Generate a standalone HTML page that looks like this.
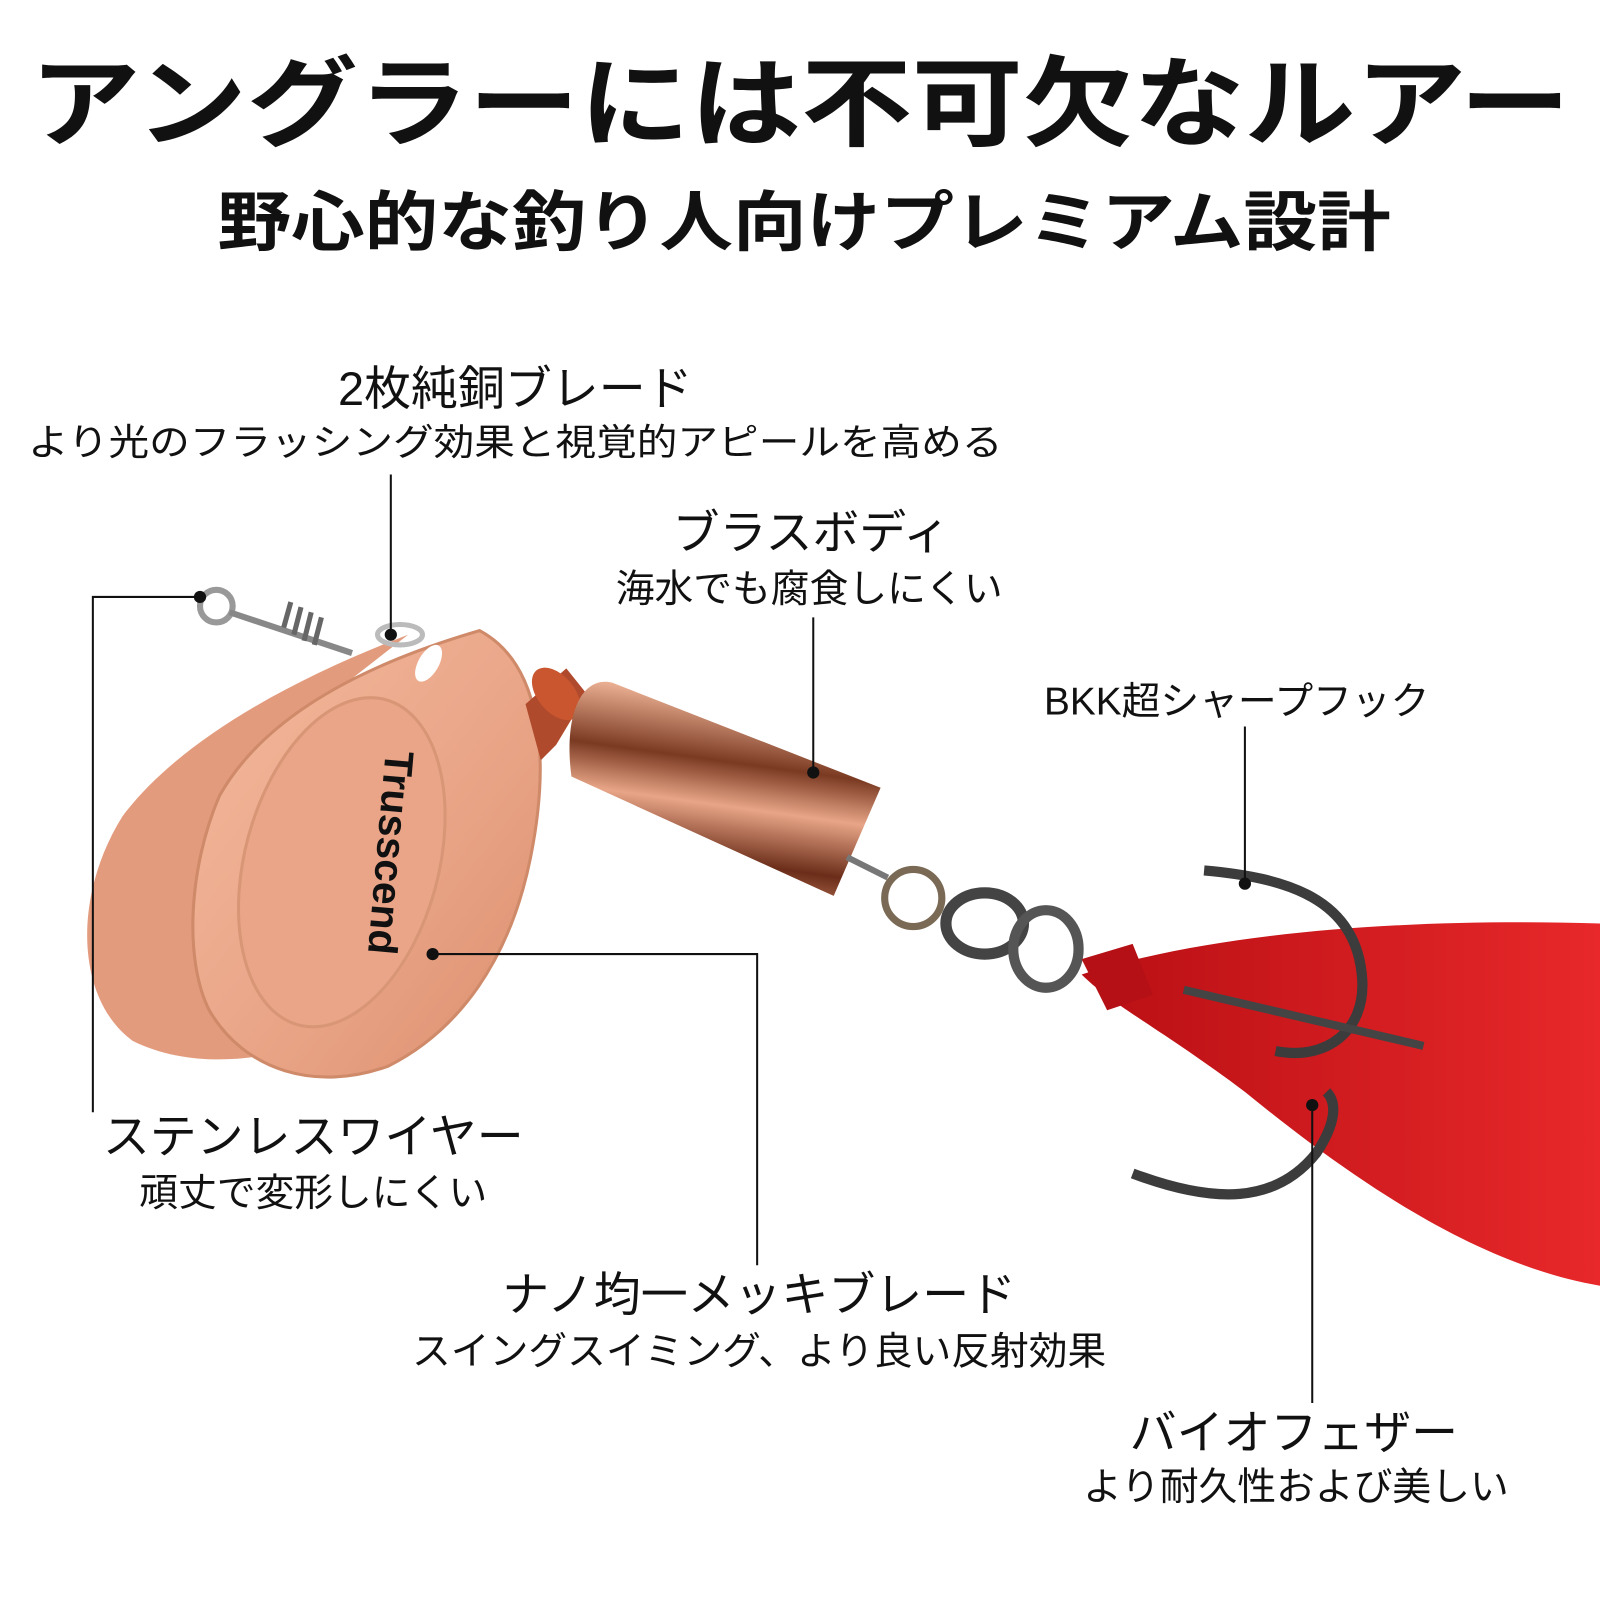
<!DOCTYPE html>
<html><head><meta charset="utf-8"><style>
html,body{margin:0;padding:0;background:#fff}
svg{display:block}
text{font-family:"Liberation Sans","Noto Sans CJK JP",sans-serif;fill:#111}
</style></head><body>
<svg width="1600" height="1600" viewBox="0 0 1568 1568" xmlns="http://www.w3.org/2000/svg">
<defs>
<linearGradient id="cu" x1="0" y1="0" x2="1" y2="1">
<stop offset="0" stop-color="#f3b99c"/><stop offset="0.5" stop-color="#eba78a"/><stop offset="1" stop-color="#dc9070"/></linearGradient>
<linearGradient id="body" x1="0.2" y1="0" x2="0" y2="1">
<stop offset="0" stop-color="#f2b79a"/><stop offset="0.3" stop-color="#7a3a22"/><stop offset="0.5" stop-color="#e8a587"/><stop offset="0.75" stop-color="#6b2d19"/><stop offset="1" stop-color="#d7906f"/></linearGradient>
<linearGradient id="fe" x1="0" y1="0" x2="1" y2="0">
<stop offset="0" stop-color="#b80f14"/><stop offset="1" stop-color="#e8282a"/></linearGradient>
</defs>
<text x="784" y="135" font-size="96" font-weight="bold" text-anchor="middle" textLength="1510" lengthAdjust="spacingAndGlyphs">アングラーには不可欠なルアー</text>
<text x="788" y="240" font-size="64" font-weight="bold" text-anchor="middle" textLength="1150" lengthAdjust="spacingAndGlyphs">野心的な釣り人向けプレミアム設計</text>

<!-- swivel -->
<circle cx="212" cy="594" r="16" fill="none" stroke="#999" stroke-width="6"/>
<line x1="225" y1="600" x2="345" y2="640" stroke="#888" stroke-width="6"/>
<g stroke="#666" stroke-width="5"><line x1="285" y1="590" x2="278" y2="615"/><line x1="295" y1="595" x2="288" y2="622"/><line x1="305" y1="600" x2="298" y2="628"/><line x1="315" y1="605" x2="308" y2="632"/></g>
<!-- back blade -->
<path d="M400 622 C300 660 180 720 120 800 C70 880 75 980 130 1020 C180 1045 240 1040 280 1030 L300 700 Z" fill="#e39b7e"/>
<!-- front blade -->
<path d="M470 618 C530 650 540 740 520 840 C500 940 450 1010 380 1045 C310 1070 240 1050 205 990 C180 940 185 850 215 780 C260 700 360 650 470 618 Z" fill="url(#cu)" stroke="#cf8a6a" stroke-width="3"/>
<ellipse cx="335" cy="845" rx="95" ry="165" transform="rotate(15 335 845)" fill="#eaa588" stroke="#d99677" stroke-width="3"/>
<text x="0" y="0" font-size="40" fill="#c98266" font-family="Liberation Serif,serif" font-weight="bold" transform="translate(378 735) rotate(95)">Trusscend</text>
<ellipse cx="420" cy="650" rx="10" ry="20" transform="rotate(30 420 650)" fill="#fff"/>
<ellipse cx="392" cy="622" rx="22" ry="10" fill="none" stroke="#bbb" stroke-width="5"/>
<!-- beads -->
<path d="M515 690 L555 655 L575 680 L545 730 L530 745 Z" fill="#b04a2c"/>
<ellipse cx="545" cy="680" rx="18" ry="30" transform="rotate(-40 545 680)" fill="#c9562f"/>
<!-- body -->
<path d="M600 669 C570 662 552 700 560 761 L817 878 L863 772 Z" fill="url(#body)"/>
<!-- rings -->
<line x1="830" y1="840" x2="870" y2="860" stroke="#777" stroke-width="6"/>
<circle cx="895" cy="880" r="28" fill="none" stroke="#7a6a55" stroke-width="7"/>
<ellipse cx="965" cy="905" rx="38" ry="30" fill="none" stroke="#444" stroke-width="11"/>
<ellipse cx="1025" cy="930" rx="32" ry="38" fill="none" stroke="#555" stroke-width="10"/>
<!-- feather -->
<path d="M1060 955 C1200 910 1400 900 1568 905 L1568 1260 C1450 1240 1330 1160 1220 1070 C1140 1010 1090 985 1060 955 Z" fill="url(#fe)"/>
<path d="M1060 940 L1110 925 L1130 975 L1085 990 Z" fill="#b51015"/>
<!-- hook -->
<path d="M1180 853 C1260 860 1330 880 1335 960 C1338 1010 1300 1040 1250 1030" fill="none" stroke="#3c3c3c" stroke-width="10"/>
<path d="M1110 1150 C1190 1180 1250 1180 1290 1130 C1310 1100 1310 1080 1300 1070" fill="none" stroke="#3c3c3c" stroke-width="10"/>
<path d="M1160 970 L1395 1025" stroke="#444" stroke-width="8"/>

<!-- connectors -->
<g stroke="#111" stroke-width="2" fill="none">
<polyline points="383,465 383,620"/>
<polyline points="196,585 91,585 91,1090"/>
<polyline points="797,605 797,755"/>
<polyline points="424,935 742,935 742,1240"/>
<polyline points="1220,712 1220,865"/>
<polyline points="1286,1083 1286,1375"/>
</g>
<g fill="#111">
<circle cx="383" cy="622" r="6"/><circle cx="196" cy="585" r="6"/><circle cx="797" cy="757" r="6"/><circle cx="424" cy="935" r="6"/><circle cx="1220" cy="866" r="6"/><circle cx="1286" cy="1083" r="6"/>
</g>

<text x="505" y="397" font-size="46" text-anchor="middle">2枚純銅ブレード</text>
<text x="505" y="446" font-size="36" text-anchor="middle" textLength="955" lengthAdjust="spacingAndGlyphs">より光のフラッシング効果と視覚的アピールを高める</text>
<text x="795" y="538" font-size="46" text-anchor="middle">ブラスボディ</text>
<text x="793" y="590" font-size="38" text-anchor="middle">海水でも腐食しにくい</text>
<text x="1212" y="700" font-size="38" text-anchor="middle">BKK超シャープフック</text>
<text x="307" y="1130" font-size="46" text-anchor="middle">ステンレスワイヤー</text>
<text x="307" y="1182" font-size="38" text-anchor="middle">頑丈で変形しにくい</text>
<text x="744" y="1285" font-size="46" text-anchor="middle">ナノ均一メッキブレード</text>
<text x="744" y="1337" font-size="38" text-anchor="middle">スイングスイミング、より良い反射効果</text>
<text x="1268" y="1420" font-size="46" text-anchor="middle">バイオフェザー</text>
<text x="1270" y="1470" font-size="38" text-anchor="middle">より耐久性および美しい</text>
</svg>
</body></html>
